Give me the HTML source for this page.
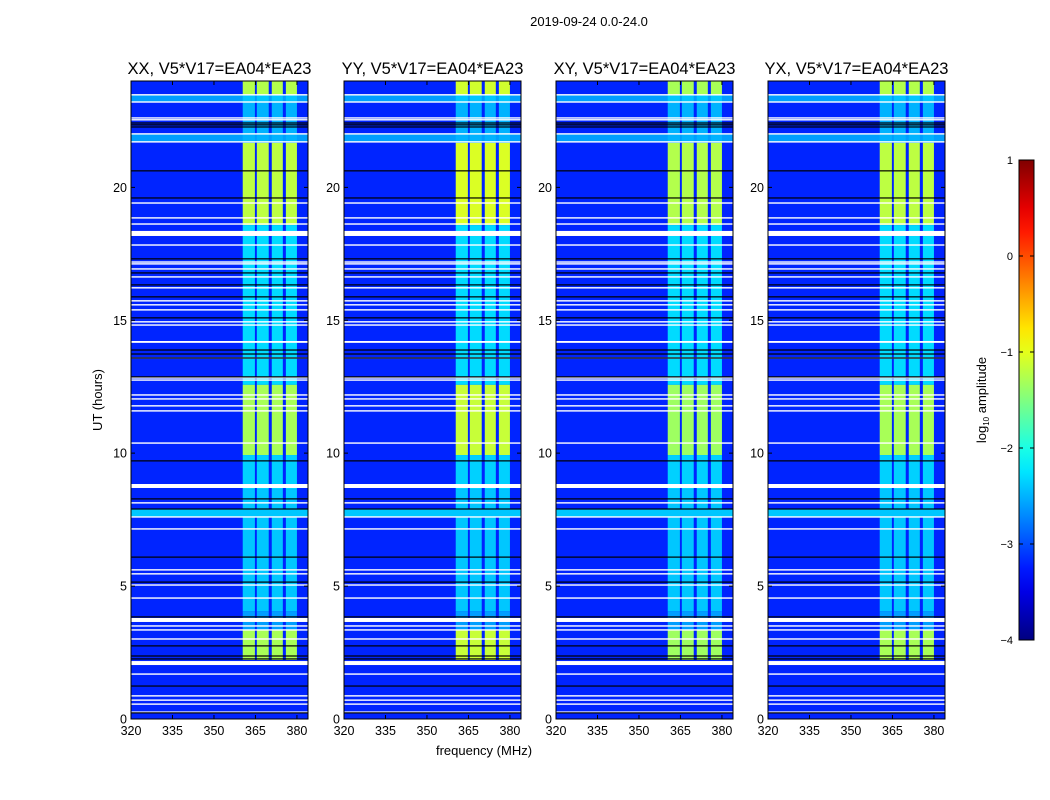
<!DOCTYPE html>
<html><head><meta charset="utf-8">
<style>
body{margin:0;background:#fff;}
svg{display:block;font-family:"Liberation Sans",sans-serif;}
</style></head>
<body>
<svg id="fig" width="1050" height="800" viewBox="0 0 1050 800" xmlns="http://www.w3.org/2000/svg">
<text x="589" y="26" font-size="13" text-anchor="middle">2019-09-24 0.0-24.0</text>
<text transform="translate(102,400) rotate(-90)" font-size="13" text-anchor="middle">UT (hours)</text>
<text x="484" y="755" font-size="13" text-anchor="middle">frequency (MHz)</text>
<g id="panels"></g>
<g id="cbar"></g>
</svg>
<script>
// ---- data ----
const panelTitles = ["XX, V5*V17=EA04*EA23","YY, V5*V17=EA04*EA23","XY, V5*V17=EA04*EA23","YX, V5*V17=EA04*EA23"];
const panelLeft = [131, 344, 556, 768];
const panelGain = [0, 0.15, -0.05, 0];
const bandLo = [360.4, 365.5, 370.9, 376.0];
const bandHi = [364.8, 369.8, 374.9, 380.0];
// time segments: start hr, end hr, band log10 amplitude
const segStart = [23.48, 23.21, 21.67, 18.58, 12.57, 9.93, 8.62, 4.06, 3.35, 2.22];
const segEnd   = [24.0, 23.48, 23.21, 21.67, 18.58, 12.57, 9.93, 8.62, 4.06, 3.35];
const segLevel = [-1.25, -2.4, -2.5, -1.2, -2.3, -1.3, -2.35, -2.4, -2.6, -1.3];
const bgLevel = -3.2;
// lighter full-width rows
const rowStart = [23.21, 21.71, 7.60];
const rowEnd = [23.48, 22.01, 7.90];
const rowLevel = [-2.6, -2.6, -2.4];
// flagged (white) rows and black rows, in hours
const whiteLines = [23.48,23.21,22.61,22.54,22.01,21.71,19.41,18.85,18.62,17.83,17.19,17.12,16.93,16.63,16.22,15.73,15.58,15.39,14.94,14.82,13.58,12.83,12.75,12.19,12.04,11.78,11.59,10.38,8.13,7.60,7.15,5.61,5.46,5.04,4.55,3.50,3.35,3.01,1.69,0.87,0.71,0.56,0.26];
const whiteBandStart = [18.17, 14.15, 8.69, 3.65, 2.03];
const whiteBandEnd = [18.36, 14.22, 8.84, 3.80, 2.18];
const blackLines = [22.42,22.35,22.27,20.62,19.60,17.31,16.78,16.33,15.88,15.09,13.88,13.73,13.58,12.87,9.71,8.28,7.90,6.09,5.15,3.84,2.75,2.37,2.26,1.24,0.23];
const xTicks = [320,335,350,365,380];
const yTicks = [0,5,10,15,20];
const cbTicks = [1,0,-1,-2,-3,-4];
// ---- layout ----
const NS="http://www.w3.org/2000/svg";
const pTop=81, bot=719, pw=177, fMin=320, fMax=384, hMax=24;
const cbX=1019, cbW=15, cbTop=160, cbBot=640, cbMin=-4, cbMax=1;
function jet(v){v=Math.max(0,Math.min(1,v));const c=x=>Math.round(255*Math.max(0,Math.min(1,1.5-Math.abs(x))));return `rgb(${c(4*v-3)},${c(4*v-2)},${c(4*v-1)})`;}
function col(l){return jet((l-cbMin)/(cbMax-cbMin));}
function yS(h){return bot-(h/hMax)*(bot-pTop);}
function mk(tag,attrs,parent){const e=document.createElementNS(NS,tag);for(const k in attrs)e.setAttribute(k,attrs[k]);parent.appendChild(e);return e;}
const panels=document.getElementById('panels');
panelTitles.forEach((t,p)=>{
  const L=panelLeft[p];
  const xS=f=>L+(f-fMin)/(fMax-fMin)*pw;
  const g=mk('g',{},panels);
  
  
  const bg=mk('rect',{x:L,y:pTop,width:pw,height:bot-pTop,fill:col(bgLevel)},g);
  
  
  rowStart.forEach((s,i)=>{
    const r=mk('rect',{x:L,y:yS(rowEnd[i]),width:pw,height:yS(rowStart[i])-yS(rowEnd[i]),fill:col(rowLevel[i])},g);
    
    
  });
  segStart.forEach((s,i)=>{
    bandLo.forEach((b,j)=>{
      const r=mk('rect',{x:xS(b),y:yS(segEnd[i]),width:xS(bandHi[j])-xS(b),height:yS(s)-yS(segEnd[i]),fill:col(segLevel[i]+(segLevel[i]>-1.5?panelGain[p]:0))},g);
      
      
    });
  });
  whiteLines.forEach(h=>{
    const r=mk('rect',{x:L,y:yS(h)-0.7,width:pw,height:1.4,fill:'#fff'},g);
    
    
  });
  whiteBandStart.forEach((s,i)=>{
    const r=mk('rect',{x:L,y:yS(whiteBandEnd[i]),width:pw,height:yS(s)-yS(whiteBandEnd[i]),fill:'#fff'},g);
    
    
  });
  blackLines.forEach(h=>{
    const r=mk('rect',{x:L,y:yS(h)-0.6,width:pw,height:1.2,fill:'#000'},g);
    
    
  });
  const fr=mk('rect',{x:L,y:pTop,width:pw,height:bot-pTop,fill:'none',stroke:'#000','stroke-width':1},g);
  
  
  const tt=mk('text',{x:L+pw/2,y:74,'font-size':16.5,'text-anchor':'middle'},g);
  tt.textContent=t;
  
  
  xTicks.forEach(f=>{
    const x=xS(f);
    const l=mk('path',{d:`M${x},${bot}v-4M${x},${pTop}v4`,stroke:'#000'},g);
    
    
    const tx=mk('text',{x:x,y:bot+16,'font-size':12.5,'text-anchor':'middle'},g);
    tx.textContent=f;
    
    
  });
  yTicks.forEach(h=>{
    const y=yS(h);
    const l=mk('path',{d:`M${L},${y}h4M${L+pw},${y}h-4`,stroke:'#000'},g);
    
    
    const tx=mk('text',{x:L-4,y:y+4.5,'font-size':12.5,'text-anchor':'end'},g);
    tx.textContent=h;
    
    
  });
});
// colorbar
const cb=document.getElementById('cbar');
const defs=mk('defs',{},cb);
const grad=mk('linearGradient',{id:'jetg',x1:0,y1:1,x2:0,y2:0},defs);
for(let i=0;i<=20;i++){mk('stop',{offset:i/20,'stop-color':jet(i/20)},grad);}
const cbr=mk('rect',{x:cbX,y:cbTop,width:cbW,height:cbBot-cbTop,fill:'url(#jetg)',stroke:'#000','stroke-width':1},cb);


cbTicks.forEach(v=>{
  const y=cbBot-(v-cbMin)/(cbMax-cbMin)*(cbBot-cbTop);
  const l=mk('path',{d:`M${cbX},${y}h4M${cbX+cbW},${y}h-4`,stroke:'#000'},cb);
  
  
  const tx=mk('text',{x:cbX-6,y:y+4,'font-size':11,'text-anchor':'end'},cb);
  tx.textContent=(v<0?'\u2212'+(-v):v);
  
  
});
const cl=mk('text',{transform:'translate(986,400) rotate(-90)','font-size':13,'text-anchor':'middle'},cb);
cl.innerHTML='log<tspan font-size="8" dy="3">10</tspan><tspan dy="-3"> amplitude</tspan>';


</script>
</body></html>
